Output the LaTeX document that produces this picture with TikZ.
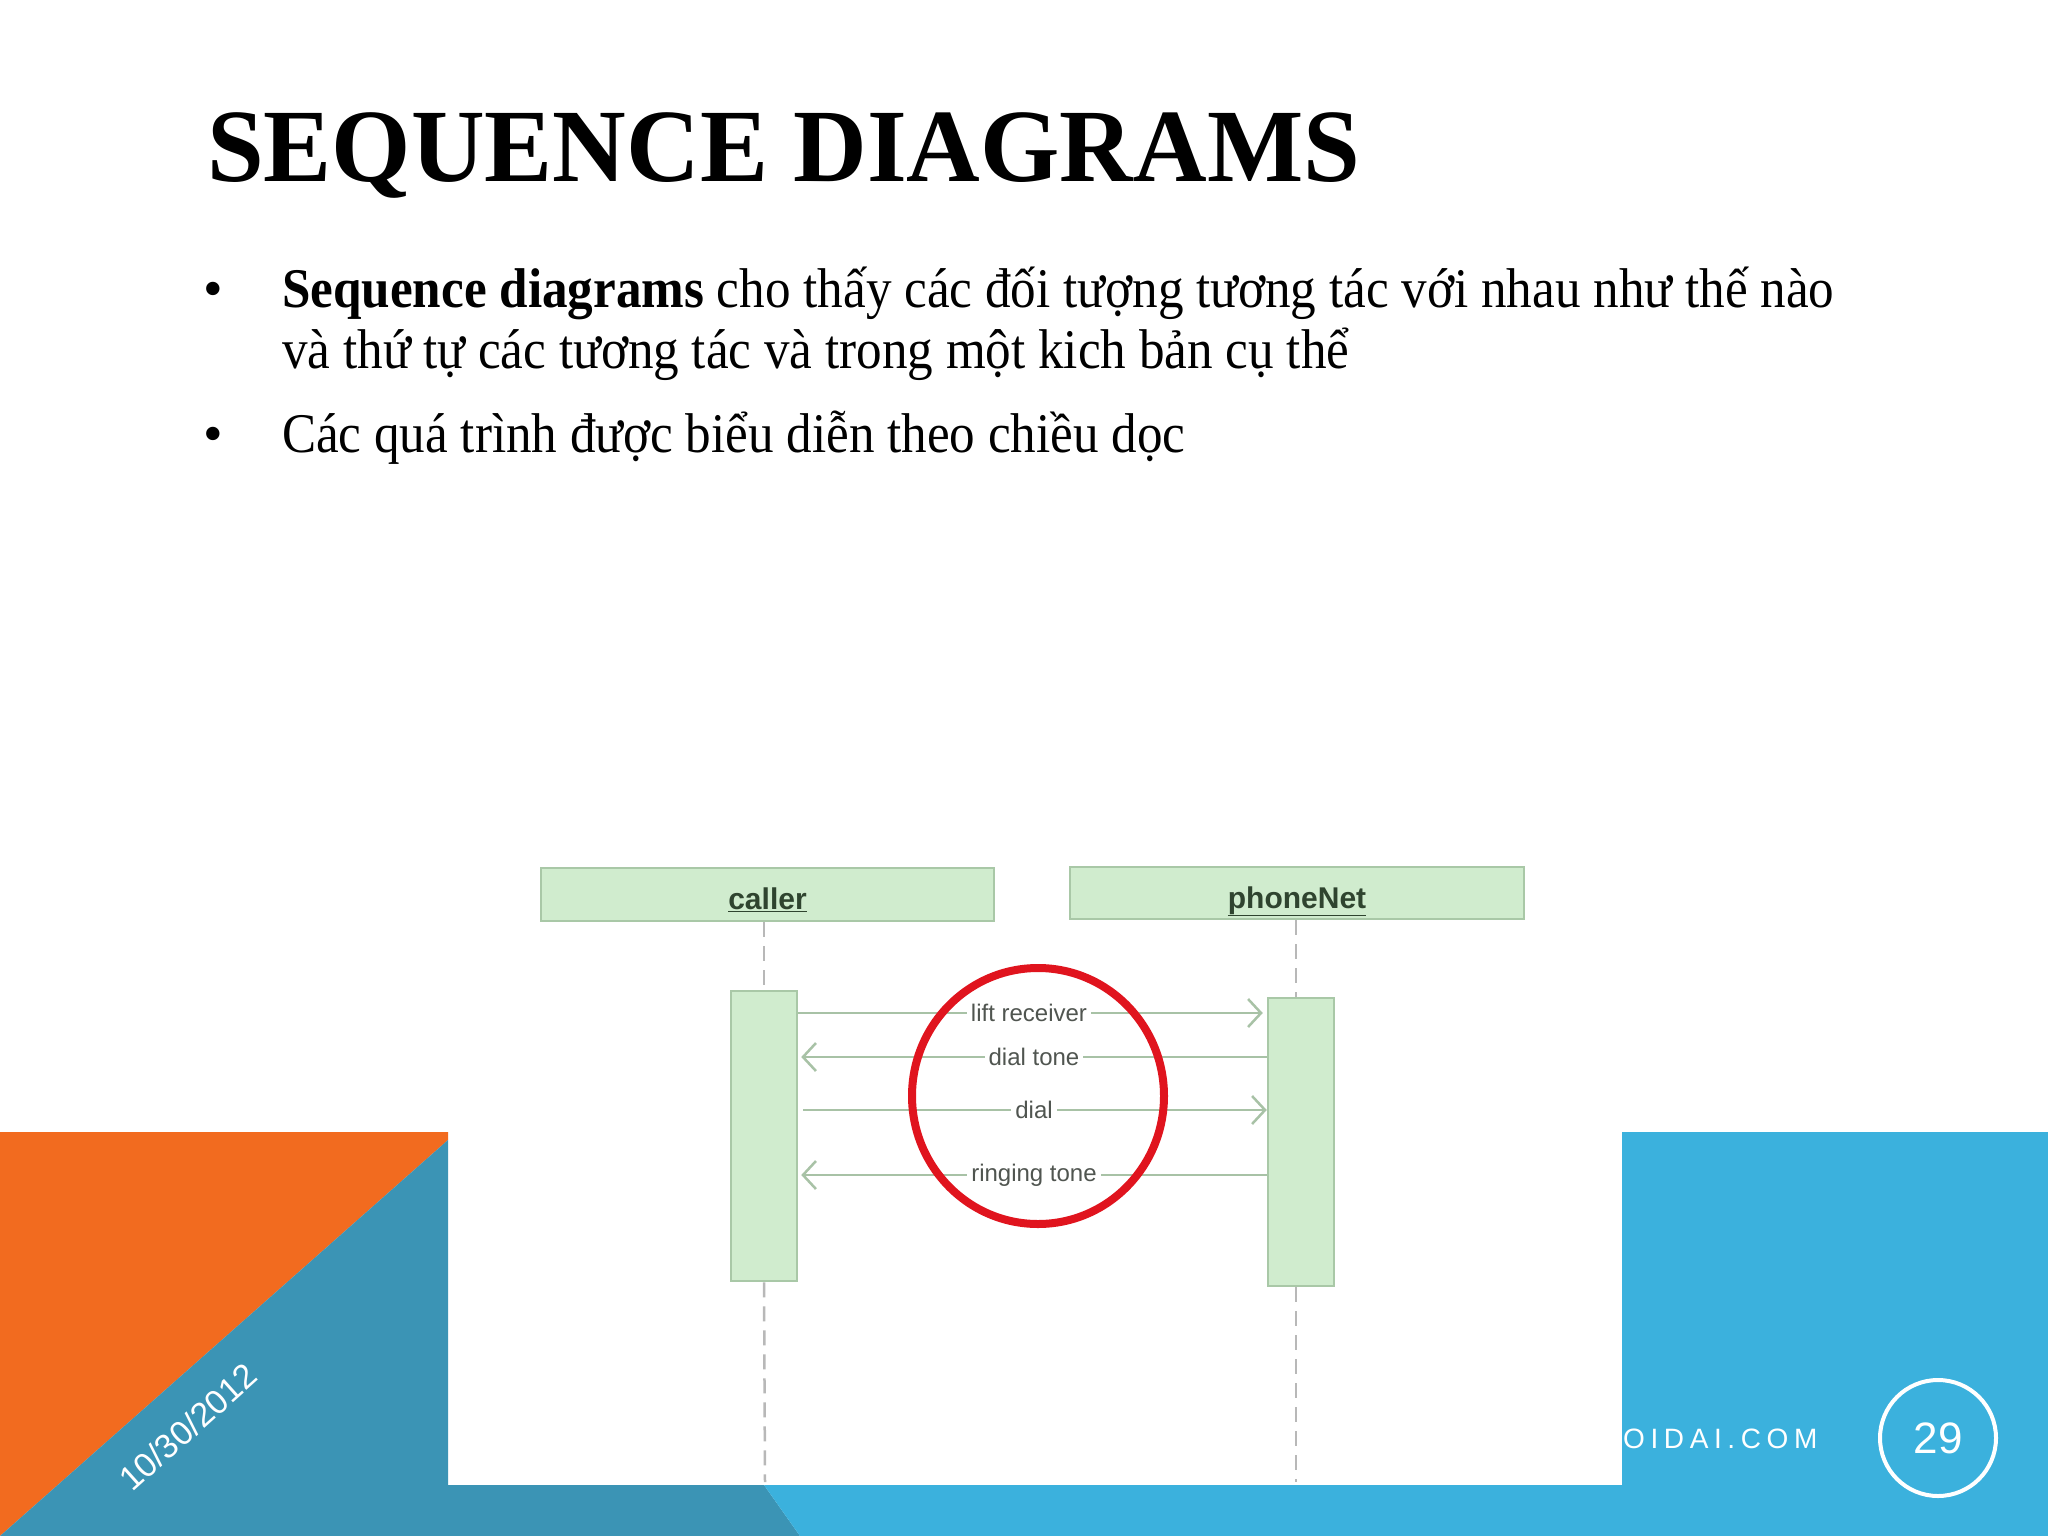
\documentclass[tikz,border=0pt]{standalone}
\usepackage{fontspec}
\setmainfont{Liberation Serif}
\newfontfamily\arialfont{Liberation Sans}
\usepackage{graphicx}
\usetikzlibrary{arrows.meta}
\definecolor{orangeC}{HTML}{F26B1F}
\definecolor{tealC}{HTML}{3B94B5}
\definecolor{skyC}{HTML}{3BB1DD}
\definecolor{boxfill}{HTML}{D0ECCE}
\definecolor{boxline}{HTML}{A9C8A7}
\definecolor{msgline}{HTML}{A8C2A6}
\definecolor{lblC}{HTML}{505550}
\definecolor{objtxt}{HTML}{2F442F}
\definecolor{redC}{HTML}{E0141E}
\definecolor{lifeC}{HTML}{B8B8B8}
\tikzset{
  objbox/.style={draw=boxline, fill=boxfill, line width=2.5pt, inner sep=0pt,
    font=\arialfont\bfseries\fontsize{30}{30}\selectfont, text=objtxt},
  actbox/.style={draw=boxline, fill=boxfill, line width=2.5pt, inner sep=0pt},
  lifeline/.style={draw=lifeC, line width=2.5pt, dash pattern=on 15pt off 9pt},
  msg/.style={draw=msgline, line width=2.5pt, -{Straight Barb[length=13pt,width=28pt,line width=2.5pt]}},
  msglbl/.style={fill=white, inner sep=4pt, text=lblC, font=\arialfont\fontsize{24}{24}\selectfont},
  bodytxt/.style={anchor=base west, inner sep=0pt},
  bul/.style={anchor=base, inner sep=0pt, font=\fontsize{56}{56}\selectfont}
}
\begin{document}
\begin{tikzpicture}[x=1pt,y=-1pt]
\path[use as bounding box, fill=white] (0,0) rectangle (2048,1536);
% bottom decoration
\fill[orangeC] (0,1132) -- (448,1132) -- (448,1140) -- (0,1536) -- cycle;
\fill[tealC] (448,1140) -- (448,1485) -- (764,1485) -- (800,1536) -- (0,1536) -- cycle;
\fill[skyC] (1622,1132) -- (2048,1132) -- (2048,1536) -- (800,1536) -- (764,1485) -- (1622,1485) -- cycle;
\node[rotate=41.9, text=white, inner sep=0pt, font=\arialfont\fontsize{34}{34}\selectfont] (date) at (188,1427) {10/30/2012};
\node[anchor=base west, inner sep=0pt, text=white, font=\arialfont\fontsize{28}{28}\selectfont\addfontfeatures{LetterSpace=20}] (site) at (1623,1448) {OIDAI.COM};
\node[circle, draw=white, line width=4pt, minimum size=116pt, inner sep=0pt, text=white, font=\arialfont\fontsize{44}{44}\selectfont] (page) at (1938,1438) {29};
% title and text
\node[bodytxt] (title) at (207,182) {\resizebox{1153pt}{\height}{\fontsize{104}{104}\selectfont\bfseries SEQUENCE DIAGRAMS}};
\node[bul] (d1) at (213,307) {•};
\node[bodytxt] (l1) at (282,307) {\resizebox{1552pt}{\height}{\fontsize{56}{56}\selectfont\textbf{Sequence diagrams} cho thấy các đối tượng tương tác với nhau như thế nào}};
\node[bodytxt] (l2) at (282,368) {\resizebox{1067pt}{\height}{\fontsize{56}{56}\selectfont và thứ tự các tương tác và trong một kich bản cụ thể}};
\node[bul] (d2) at (213,452) {•};
\node[bodytxt] (l3) at (282,452) {\resizebox{903pt}{\height}{\fontsize{56}{56}\selectfont Các quá trình được biểu diễn theo chiều dọc}};
% sequence diagram
\node[objbox, minimum width=453pt, minimum height=53pt] (caller) at (767.5,894.5) {\raisebox{-14.5pt}[0pt][0pt]{\underline{caller}}};
\node[objbox, minimum width=454pt, minimum height=52pt] (phone) at (1297,893) {\raisebox{-15pt}[0pt][0pt]{\underline{phoneNet}}};
\node[actbox, minimum width=66pt, minimum height=290pt] (cact) at (764,1136) {};
\node[actbox, minimum width=66pt, minimum height=288pt] (pact) at (1301,1142) {};
\coordinate (cend) at (765,1482);
\coordinate (pend) at (1296,1482);
\draw[lifeline] (caller.south -| cact) -- (cact.north);
\draw[lifeline] (cact.south) -- (cend);
\draw[lifeline] (phone.south -| pend) -- (pact.north -| pend);
\draw[lifeline] (pact.south -| pend) -- (pend);
\coordinate (m1) at (1034,1013);
\coordinate (m2) at (1034,1057);
\coordinate (m3) at (1034,1110);
\coordinate (m4) at (1034,1175);
\draw[msg, shorten >=4pt] (cact.east |- m1) -- (pact.west |- m1);
\draw[msg, shorten >=3pt] (pact.west |- m2) -- (cact.east |- m2);
\draw[msg, shorten <=5pt] (cact.east |- m3) -- (pact.west |- m3);
\draw[msg, shorten >=3pt] (pact.west |- m4) -- (cact.east |- m4);
\node[msglbl] (t1) at ([xshift=-5pt]m1) {lift receiver};
\node[msglbl] (t2) at (m2) {dial tone};
\node[msglbl] (t3) at (m3) {dial};
\node[msglbl] (t4) at (m4) {ringing tone};
\draw[redC, line width=8pt] (1038,1096) ellipse [x radius=126, y radius=128];
\end{tikzpicture}
\end{document}
